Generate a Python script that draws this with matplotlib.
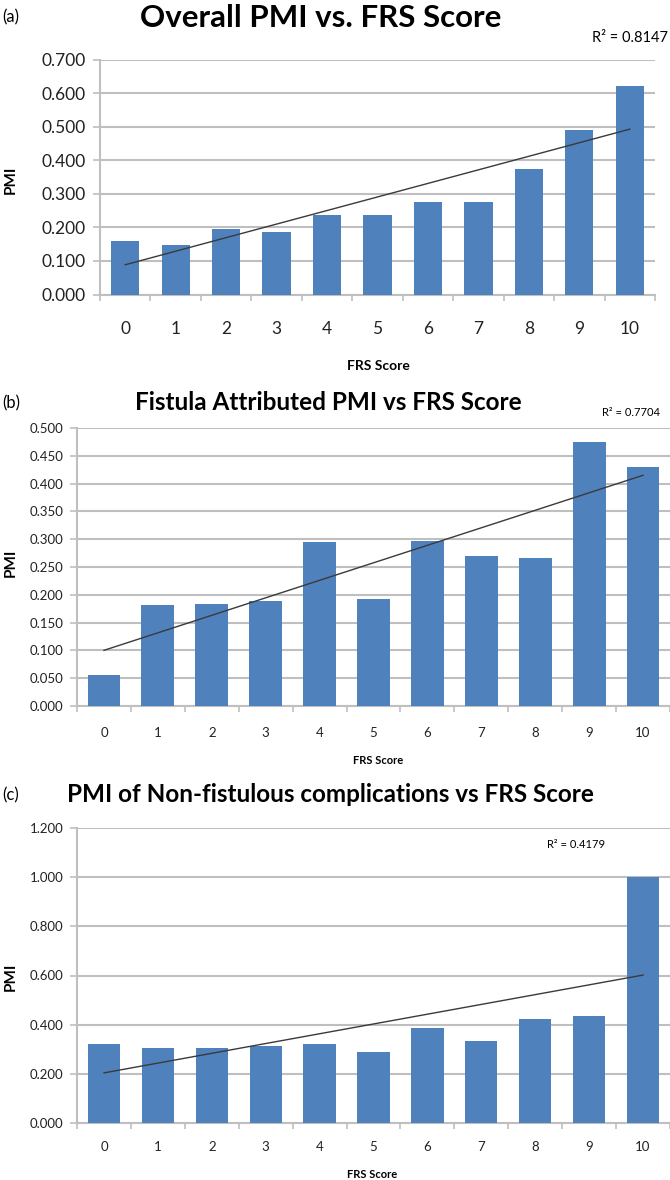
import numpy as np
import matplotlib
matplotlib.use('Agg')
import matplotlib.pyplot as plt

plt.rcParams['font.family'] = ['Lato', 'DejaVu Sans']

frs = np.arange(11)
pmi_overall = [0.158, 0.147, 0.195, 0.185, 0.236, 0.238, 0.277, 0.275, 0.375, 0.490, 0.620]
pmi_fistula = [0.055, 0.181, 0.183, 0.189, 0.295, 0.193, 0.296, 0.270, 0.266, 0.475, 0.430]
pmi_nonfist = [0.320, 0.305, 0.305, 0.312, 0.322, 0.290, 0.388, 0.332, 0.422, 0.435, 1.000]
r2_labels = ['R² = 0.8147', 'R² = 0.7704', 'R² = 0.4179']
titles = ['Overall PMI vs. FRS Score',
          'Fistula Attributed PMI vs FRS Score',
          'PMI of Non-fistulous complications vs FRS Score']

W, H = 670, 1180
fig = plt.figure(figsize=(W / 100, H / 100), dpi=100)

BLUE = '#4F81BD'
GRID = '#BFBFBF'


def px(x, y):
    return x / W, 1 - y / H


def make_axes(left, right, top, bottom):
    return fig.add_axes([left / W, 1 - bottom / H, (right - left) / W, (bottom - top) / H])


def panel(ax, vals, ymax, ystep, width, tick_fs, xpad):
    ax.bar(frs, vals, width=width, color=BLUE, zorder=3)
    k, b = np.polyfit(frs, vals, 1)
    ax.plot([frs[0], frs[-1]], [k * frs[0] + b, k * frs[-1] + b], color='#3a3a3a', lw=1.0, zorder=4)
    ax.set_xlim(-0.5, 10.5)
    ax.set_ylim(0, ymax)
    yt = np.arange(0, ymax + ystep / 2, ystep)
    ax.set_yticks(yt)
    ax.set_yticklabels(['%.3f' % v for v in yt], fontsize=tick_fs, color='#222222')
    ax.set_xticks(frs)
    ax.set_xticklabels([str(v) for v in frs], fontsize=tick_fs, color='#222222')
    ax.set_xticks(np.arange(-0.5, 11, 1), minor=True)
    ax.tick_params(axis='x', which='major', length=0, pad=xpad)
    ax.tick_params(axis='x', which='minor', length=4, color=GRID, width=1.2)
    ax.tick_params(axis='y', length=5, color=GRID, width=1.2, pad=5)
    ax.grid(axis='y', color=GRID, lw=1.5, zorder=0)
    for s in ['top', 'right']:
        ax.spines[s].set_visible(False)
    for s in ['left', 'bottom']:
        ax.spines[s].set_color(GRID)
        ax.spines[s].set_linewidth(1.5)


# (a)
ax1 = make_axes(100, 655, 59.5, 294.5)
panel(ax1, pmi_overall, 0.7, 0.1, 0.56, 12.5, 19)
fig.text(*px(2, 17), '(a)', fontsize=12, va='center', ha='left')
fig.text(*px(321, 18), titles[0], fontsize=22.5, fontweight='bold', va='center', ha='center')
fig.text(*px(668, 38), r2_labels[0], fontsize=10.5, va='center', ha='right')
fig.text(*px(11, 180), 'PMI', fontsize=11, fontweight='bold', rotation=90, va='center', ha='center')
fig.text(*px(378, 366), 'FRS Score', fontsize=10, fontweight='bold', va='center', ha='center')

# (b)
ax2 = make_axes(77, 670, 428, 706)
panel(ax2, pmi_fistula, 0.5, 0.05, 0.61, 9.5, 15)
fig.text(*px(2, 403), '(b)', fontsize=12, va='center', ha='left')
fig.text(*px(328, 402), titles[1], fontsize=17.5, fontweight='bold', va='center', ha='center')
fig.text(*px(660, 412), r2_labels[1], fontsize=8, va='center', ha='right')
fig.text(*px(11, 563), 'PMI', fontsize=11, fontweight='bold', rotation=90, va='center', ha='center')
fig.text(*px(378, 761), 'FRS Score', fontsize=8, fontweight='bold', va='center', ha='center')

# (c)
ax3 = make_axes(77, 670, 828, 1123)
panel(ax3, pmi_nonfist, 1.2, 0.2, 0.6, 9.5, 13)
fig.text(*px(2, 795), '(c)', fontsize=12, va='center', ha='left')
fig.text(*px(330, 795), titles[2], fontsize=17.5, fontweight='bold', va='center', ha='center')
fig.text(*px(576, 845), r2_labels[2], fontsize=8, va='center', ha='center')
fig.text(*px(11, 977), 'PMI', fontsize=11, fontweight='bold', rotation=90, va='center', ha='center')
fig.text(*px(372, 1174), 'FRS Score', fontsize=8, fontweight='bold', va='center', ha='center')

fig.savefig('out.png', dpi=100)
